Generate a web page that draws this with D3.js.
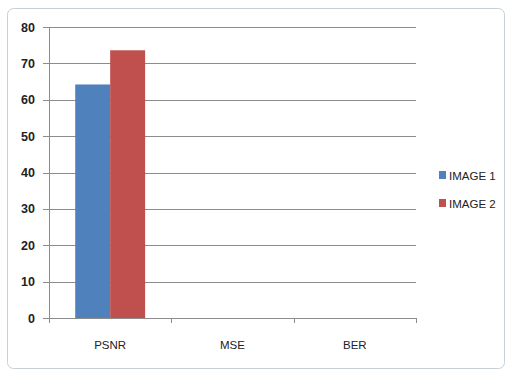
<html>
<head>
<script src="https://d3js.org/d3.v7.min.js"></script>
<style>
  body { margin: 0; background: #fff; }
  text { font-family: "Liberation Sans", Arial, sans-serif; fill: #222; }
</style>
</head>
<body>
<svg width="507" height="374"></svg>
<script>
const categories = ["PSNR", "MSE", "BER"];
const seriesNames = ["IMAGE 1", "IMAGE 2"];
const image1 = [64.2, 0, 0];
const image2 = [73.6, 0, 0];
const yTicks = [0, 10, 20, 30, 40, 50, 60, 70, 80];
const colors = ["#4F81BD", "#C0504D"];

const svg = d3.select("svg");

// outer chart frame
svg.append("rect")
  .attr("x", 7.5).attr("y", 8.5)
  .attr("width", 497).attr("height", 360)
  .attr("rx", 6)
  .attr("fill", "#fff")
  .attr("stroke", "#c4d2d6");

const plotLeft = 49, plotRight = 416, plotTop = 27, plotBottom = 318;

const x = d3.scaleBand().domain(categories).range([plotLeft, plotRight]);
const xs = d3.scaleBand().domain(seriesNames).range([0, x.bandwidth()]).paddingOuter(0.75).paddingInner(0);
const y = d3.scaleLinear().domain([0, 80]).range([plotBottom, plotTop]);

// gridlines
svg.append("g").selectAll("line")
  .data(yTicks.filter(d => d > 0))
  .enter().append("line")
  .attr("x1", plotLeft - 6).attr("x2", plotRight)
  .attr("y1", d => Math.round(y(d)) + 0.5).attr("y2", d => Math.round(y(d)) + 0.5)
  .attr("stroke", "#8c8c8c");

// y axis labels
svg.append("g").selectAll("text")
  .data(yTicks)
  .enter().append("text")
  .attr("x", 35).attr("y", d => y(d) + 4.5)
  .attr("text-anchor", "end")
  .attr("font-size", 12.5)
  .attr("font-weight", "bold")
  .text(d => d);

// bars
const data = categories.map((c, i) => ({ cat: c, vals: [image1[i], image2[i]] }));
const groups = svg.append("g").selectAll("g")
  .data(data).enter().append("g")
  .attr("transform", d => `translate(${x(d.cat)},0)`);
groups.selectAll("rect")
  .data(d => d.vals.map((v, j) => ({ name: seriesNames[j], v: v, j: j })))
  .enter().append("rect")
  .attr("x", d => xs(d.name))
  .attr("width", xs.bandwidth())
  .attr("y", d => y(d.v))
  .attr("height", d => plotBottom - y(d.v))
  .attr("fill", d => colors[d.j]);

// axes lines
svg.append("line")
  .attr("x1", plotLeft + 0.5).attr("x2", plotLeft + 0.5)
  .attr("y1", plotTop).attr("y2", plotBottom)
  .attr("stroke", "#8c8c8c");
svg.append("line")
  .attr("x1", plotLeft - 6).attr("x2", plotRight)
  .attr("y1", plotBottom + 0.5).attr("y2", plotBottom + 0.5)
  .attr("stroke", "#8c8c8c");
// category boundary ticks
const bounds = categories.map(c => x(c)).concat([plotRight]);
svg.append("g").selectAll("line")
  .data(bounds).enter().append("line")
  .attr("x1", d => Math.round(d) + 0.5).attr("x2", d => Math.round(d) + 0.5)
  .attr("y1", plotBottom).attr("y2", plotBottom + 5)
  .attr("stroke", "#8c8c8c");

// category labels
svg.append("g").selectAll("text")
  .data(categories).enter().append("text")
  .attr("x", d => x(d) + x.bandwidth() / 2)
  .attr("y", 349)
  .attr("text-anchor", "middle")
  .attr("font-size", 11.5)
  .text(d => d);

// legend
const legend = svg.append("g").selectAll("g")
  .data(seriesNames).enter().append("g")
  .attr("transform", (d, i) => `translate(439,${171 + i * 28})`);
legend.append("rect")
  .attr("width", 7).attr("height", 8)
  .attr("fill", (d, i) => colors[i]);
legend.append("text")
  .attr("x", 10).attr("y", 8.5)
  .attr("font-size", 11.5)
  .text(d => d);
</script>
</body>
</html>
